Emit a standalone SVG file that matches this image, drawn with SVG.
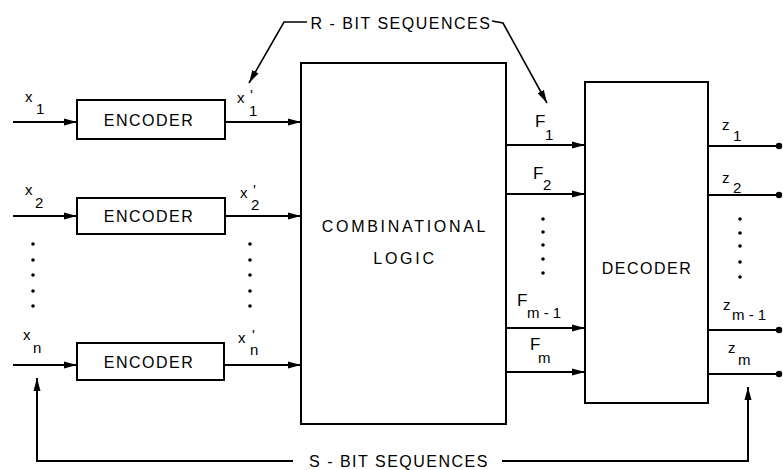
<svg xmlns="http://www.w3.org/2000/svg" width="783" height="470" viewBox="0 0 783 470">
<style>
.box{fill:#fff;stroke:#000;stroke-width:2}
.ln{fill:none;stroke:#000;stroke-width:2}
.thin{fill:none;stroke:#000;stroke-width:1.6}
.t{font-family:"Liberation Sans",Arial,sans-serif;font-size:16px;fill:#000;letter-spacing:1.5px}
.lab{font-family:"Liberation Sans",Arial,sans-serif;font-size:15px;fill:#000}
.big{font-family:"Liberation Sans",Arial,sans-serif;font-size:17px;fill:#000}
.dot{fill:#000}
</style>
<defs>
<marker id="ah" markerUnits="userSpaceOnUse" markerWidth="14" markerHeight="8" refX="13" refY="4" orient="auto">
<path d="M0,0.5 L13,4 L0,7.5 z" fill="#000"/>
</marker>
</defs>

<g id="connectors">
<line class="ln" x1="13" y1="122" x2="77" y2="122" marker-end="url(#ah)"/>
<line class="ln" x1="13" y1="216" x2="77" y2="216" marker-end="url(#ah)"/>
<line class="ln" x1="13" y1="365" x2="77" y2="365" marker-end="url(#ah)"/>
<line class="ln" x1="225" y1="122" x2="301" y2="122" marker-end="url(#ah)"/>
<line class="ln" x1="225" y1="216" x2="301" y2="216" marker-end="url(#ah)"/>
<line class="ln" x1="224" y1="365" x2="301" y2="365" marker-end="url(#ah)"/>
<line class="ln" x1="506" y1="145" x2="585" y2="145" marker-end="url(#ah)"/>
<line class="ln" x1="506" y1="194" x2="585" y2="194" marker-end="url(#ah)"/>
<line class="ln" x1="506" y1="328" x2="585" y2="328" marker-end="url(#ah)"/>
<line class="ln" x1="506" y1="372" x2="585" y2="372" marker-end="url(#ah)"/>
<line class="ln" x1="708" y1="146" x2="779" y2="146"/>
<line class="ln" x1="708" y1="195" x2="779" y2="195"/>
<line class="ln" x1="708" y1="330" x2="779" y2="330"/>
<line class="ln" x1="708" y1="374" x2="779" y2="374"/>
<circle class="dot" cx="779" cy="146" r="3.2"/>
<circle class="dot" cx="779" cy="195" r="3.2"/>
<circle class="dot" cx="779" cy="330" r="3.2"/>
<circle class="dot" cx="779" cy="374" r="3.2"/>
<polyline class="thin" points="307,22 284,22 249,83" marker-end="url(#ah)"/>
<polyline class="thin" points="492,21 503,23 547,103" marker-end="url(#ah)"/>
<polyline class="ln" points="293,461 37,461 37,378" marker-end="url(#ah)"/>
<polyline class="ln" points="502,461 748,461 748,387" marker-end="url(#ah)"/>
<g class="dot">
<circle cx="33" cy="244" r="1.8"/><circle cx="33" cy="260" r="1.8"/><circle cx="33" cy="275" r="1.8"/><circle cx="33" cy="291" r="1.8"/><circle cx="33" cy="306" r="1.8"/>
<circle cx="250" cy="244" r="1.8"/><circle cx="250" cy="260" r="1.8"/><circle cx="250" cy="275" r="1.8"/><circle cx="250" cy="291" r="1.8"/><circle cx="250" cy="306" r="1.8"/>
<circle cx="543" cy="219" r="1.8"/><circle cx="543" cy="232" r="1.8"/><circle cx="543" cy="245" r="1.8"/><circle cx="543" cy="259" r="1.8"/><circle cx="543" cy="273" r="1.8"/>
<circle cx="740" cy="219" r="1.8"/><circle cx="740" cy="233" r="1.8"/><circle cx="740" cy="246" r="1.8"/><circle cx="740" cy="262" r="1.8"/><circle cx="740" cy="277" r="1.8"/>
</g>
</g>

<g id="encoder1">
<rect class="box" x="77" y="100" width="148" height="39"/>
<text class="t" x="149" y="126" text-anchor="middle">ENCODER</text>
</g>
<g id="encoder2">
<rect class="box" x="77" y="198" width="148" height="36"/>
<text class="t" x="149" y="222" text-anchor="middle">ENCODER</text>
</g>
<g id="encoderN">
<rect class="box" x="77" y="343" width="147" height="37"/>
<text class="t" x="149" y="368" text-anchor="middle">ENCODER</text>
</g>
<g id="combinational">
<rect class="box" x="301" y="63" width="205" height="361"/>
<text class="t" x="405" y="232" text-anchor="middle" style="letter-spacing:2.7px">COMBINATIONAL</text>
<text class="t" x="405" y="264" text-anchor="middle" style="letter-spacing:2.7px">LOGIC</text>
</g>
<g id="decoder">
<rect class="box" x="585" y="82" width="123" height="321"/>
<text class="t" x="647" y="274" text-anchor="middle">DECODER</text>
</g>

<g id="labels">
<text class="lab" x="25" y="102">x<tspan x="36" y="114">1</tspan></text>
<text class="lab" x="25" y="195">x<tspan x="35" y="208">2</tspan></text>
<text class="lab" x="23" y="340">x<tspan x="33" y="353">n</tspan></text>
<text class="lab" x="237" y="103">x<tspan x="250" y="100">'</tspan><tspan x="249" y="116">1</tspan></text>
<text class="lab" x="240" y="198">x<tspan x="253" y="195">'</tspan><tspan x="251" y="210">2</tspan></text>
<text class="lab" x="238" y="343">x<tspan x="252" y="340">'</tspan><tspan x="250" y="355">n</tspan></text>
<text class="big" x="535" y="127">F<tspan x="545" y="140" style="font-size:15px">1</tspan></text>
<text class="big" x="533" y="179">F<tspan x="543" y="190" style="font-size:15px">2</tspan></text>
<text class="big" x="517" y="306">F<tspan x="527" y="318" style="font-size:15px">m - 1</tspan></text>
<text class="big" x="530" y="350">F<tspan x="538" y="363" style="font-size:15px">m</tspan></text>
<text class="lab" x="722" y="130">z<tspan x="733" y="141">1</tspan></text>
<text class="lab" x="722" y="183">z<tspan x="733" y="193">2</tspan></text>
<text class="lab" x="723" y="310">z<tspan x="732" y="320">m - 1</tspan></text>
<text class="lab" x="728" y="353">z<tspan x="738" y="365">m</tspan></text>
<text class="t" x="401" y="29" text-anchor="middle">R - BIT SEQUENCES</text>
<text class="t" x="399" y="467" text-anchor="middle">S - BIT SEQUENCES</text>
</g>
</svg>
